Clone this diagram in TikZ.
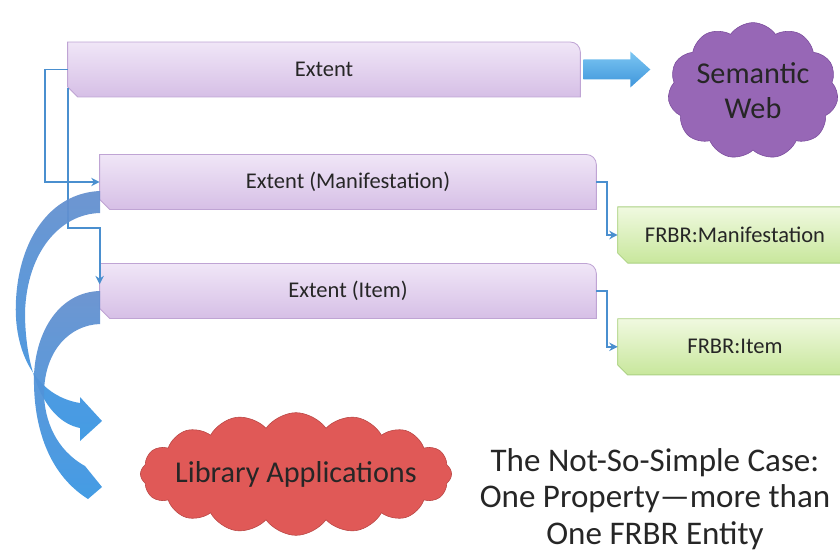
\documentclass[tikz,border=0pt]{standalone}
\usepackage{fontspec}
\setmainfont{Carlito}
\usetikzlibrary{positioning,shapes.symbols,arrows.meta,backgrounds}
\definecolor{lavtop}{HTML}{F0E6F7}
\definecolor{lavbot}{HTML}{D6BFE6}
\definecolor{lavline}{HTML}{BFA4D4}
\definecolor{lime_top}{HTML}{F0F9E0}
\definecolor{lime_bot}{HTML}{C8E79C}
\definecolor{limeline}{HTML}{ABD183}
\definecolor{linkblue}{HTML}{4A8FCF}
\definecolor{webpurple}{HTML}{9767B6}
\definecolor{webline}{HTML}{7A4C9C}
\definecolor{libred}{HTML}{E05957}
\definecolor{libline}{HTML}{B84543}
\definecolor{swoosh_top}{HTML}{6690CF}
\definecolor{swoosh_bot}{HTML}{3A97E3}
\definecolor{sky_top}{HTML}{7CC6F2}
\definecolor{sky_bot}{HTML}{3E95DB}

% box with rounded top right and snipped bottom left corner
\newcommand{\tabbox}[2]{%
  \path[#2] (#1.north west) -- ([xshift=-0.25cm]#1.north east)
    arc[start angle=90, end angle=0, radius=0.25cm] -- (#1.south east)
    -- ([xshift=0.25cm]#1.south west) -- ([yshift=0.25cm]#1.south west) -- cycle;}

\begin{document}
\begin{tikzpicture}[x=0.025cm, y=-0.025cm]

\tikzset{
  base/.style={inner sep=0pt, align=center, text=black!85, font=\fontsize{16}{19}\selectfont},
  prop/.style={base, minimum height=1.36cm, minimum width=12.4cm},
  ent/.style={base, minimum height=1.39cm, minimum width=5.85cm},
  propfill/.style={top color=lavtop, bottom color=lavbot, draw=lavline, line width=0.6pt},
  entfill/.style={top color=lime_top, bottom color=lime_bot, draw=limeline, line width=0.6pt},
  link/.style={draw=linkblue, line width=1.4pt, -{Stealth[length=6pt, width=6pt]}},
  swoosh/.style={top color=swoosh_top, bottom color=swoosh_bot, draw=none, fill opacity=0.95},
  bubble/.style={cloud, align=center, text=black!85, inner sep=0pt, font=\fontsize{21.5}{25}\selectfont}
}

  \clip (0,0) rectangle (840,551);

  \node[prop, minimum width=12.8cm] (ext) at (324,69.5) {Extent};
  \node[prop] (ext_man) at (348,182) {Extent (Manifestation)};
  \node[prop, below=1.35cm of ext_man] (ext_item) {Extent (Item)};

  \node[ent] (frbr_man) at (735,235) {FRBR:Manifestation};
  \node[ent, below=1.39cm of frbr_man] (frbr_item) {FRBR:Item};

  \node[bubble, cloud puffs=11, cloud puff arc=110, aspect=1.35,
        fill=webpurple, draw=webline, minimum width=4.1cm, minimum height=2.85cm] (sem_web) at (753,91) {Semantic\\Web};
  \node[bubble, cloud puffs=16, cloud puff arc=110, aspect=3.3, inner xsep=-0.3cm,
        fill=libred, draw=libline, minimum width=7.6cm, minimum height=2.9cm] (lib_app) at (296,474) {Library Applications};

  \node[align=center, text=black!85, font=\fontsize{23.5}{26}\selectfont] (caption)
    at (655,499) {The Not-So-Simple Case:\\One Property—more than\\One FRBR Entity};

  % block arrow towards the semantic web
  \path[top color=sky_top, bottom color=sky_bot] ([xshift=0.075cm]ext.east) ++(0,-10) -- ++(47,0) -- ++(0,-8)
    -- ++(20,18) -- ++(-20,18) -- ++(0,-8) -- ++(-47,0) -- cycle;

  % elbow links
  \draw[link] (ext.west) -- ++(-23,0) |- (ext_man.west);
  \coordinate (item_in) at ([yshift=-0.52cm]ext_item.north west);
  \draw[link] ([yshift=0.225cm]ext.south west) -- ++(0,140) -| (item_in);
  \draw[link] (ext_man.east) -- ++(11,0) |- (frbr_man.west);
  \draw[link] (ext_item.east) -- ++(11,0) |- (frbr_item.west);

  % curved arrows down to the library cloud
  \path[swoosh] (100,191) .. controls (50,193) and (19,240) .. (16,300)
    .. controls (13,352) and (36,396) .. (80,403)
    -- (80,397) -- (102,421) -- (80,441) -- (80,428)
    .. controls (45,421) and (25,372) .. (25,312)
    .. controls (27,252) and (60,214) .. (100,213) -- cycle;
  \path[swoosh] (100,291) .. controls (60,292) and (36,330) .. (34,375)
    .. controls (33,420) and (45,472) .. (88,499)
    -- (102,487) -- (85,466)
    .. controls (56,450) and (44,420) .. (44,392)
    .. controls (45,350) and (70,325) .. (100,324) -- cycle;

  \begin{pgfonlayer}{background}
    \tabbox{ext}{propfill}
    \tabbox{ext_man}{propfill}
    \tabbox{ext_item}{propfill}
    \tabbox{frbr_man}{entfill}
    \tabbox{frbr_item}{entfill}
  \end{pgfonlayer}
\end{tikzpicture}
\end{document}
